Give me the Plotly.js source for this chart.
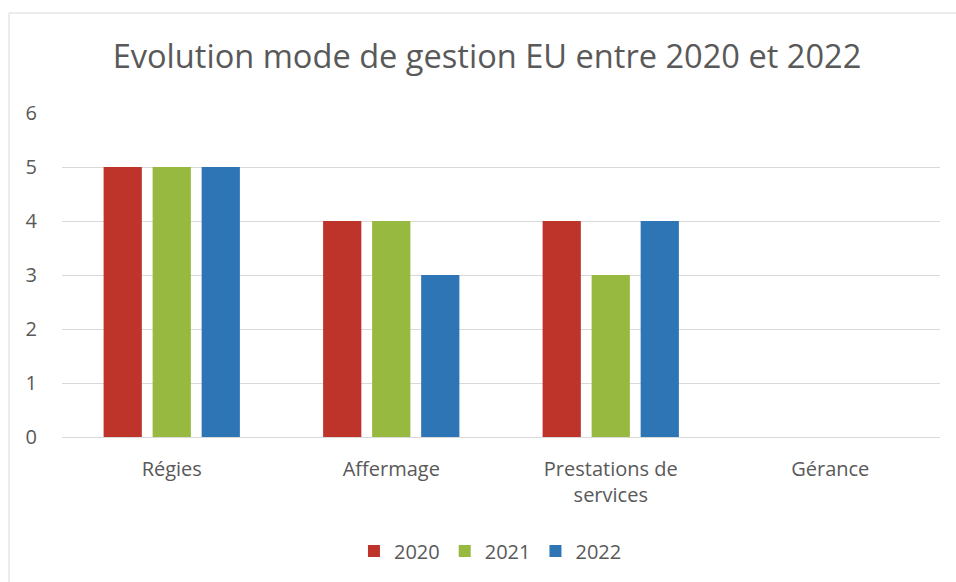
<!DOCTYPE html>
<html>
<head>
<meta charset="utf-8">
<script src="https://cdn.plot.ly/plotly-3.0.1.min.js"></script>
<style>
  body { margin: 0; background: #fff; }
  #chart { width: 956px; height: 582px; }
</style>
</head>
<body>
<div id="chart"></div>
<script>
var categories = ["Régies", "Affermage", "Prestations de<br>services", "Gérance"];
var years = ["2020", "2021", "2022"];
var values2020 = [5, 4, 4, 0];
var values2021 = [5, 4, 3, 0];
var values2022 = [5, 3, 4, 0];
var colors = ["#BE342B", "#97B93F", "#2E75B6"];

var series = [values2020, values2021, values2022];
var data = series.map(function (vals, i) {
  return {
    type: "bar",
    name: years[i],
    x: categories,
    y: vals,
    marker: { color: colors[i] },
    hoverinfo: "x+y+name"
  };
});

var font = "Open Sans, Noto Sans, sans-serif";

var layout = {
  width: 956,
  height: 582,
  margin: { l: 62, r: 16, t: 113, b: 145 },
  paper_bgcolor: "#fff",
  plot_bgcolor: "#fff",
  font: { family: font, color: "#595959", size: 20 },
  title: {
    text: "Evolution mode de gestion EU entre 2020 et 2022",
    font: { family: font, size: 32.6, color: "#595959" },
    x: 487 / 956, xanchor: "center",
    y: 1 - 57 / 582, yanchor: "middle"
  },
  barmode: "group",
  bargap: 0.33,
  bargroupgap: 0.22,
  xaxis: {
    showgrid: false,
    showline: true,
    linecolor: "#d9d9d9",
    linewidth: 1,
    ticks: "outside",
    ticklen: 14,
    tickcolor: "rgba(0,0,0,0)",
    tickfont: { size: 20 }
  },
  yaxis: {
    range: [0, 6],
    dtick: 1,
    showgrid: true,
    gridcolor: "#d9d9d9",
    gridwidth: 1,
    zeroline: false,
    showline: false,
    ticks: "outside",
    ticklen: 20,
    tickcolor: "rgba(0,0,0,0)",
    tickfont: { size: 20 }
  },
  showlegend: true,
  legend: {
    orientation: "h",
    x: 0.488, xanchor: "center",
    y: (437 - 551) / 324, yanchor: "middle",
    font: { size: 20 },
    itemwidth: 30,
    traceorder: "normal"
  },
  shapes: [{
    type: "rect",
    xref: "paper", yref: "paper",
    x0: (9 - 62) / 878, x1: (980 - 62) / 878,
    y0: (437 - 620) / 324, y1: (437 - 13) / 324,
    line: { color: "#d9d9d9", width: 1 },
    fillcolor: "rgba(0,0,0,0)",
    layer: "below"
  }]
};

Plotly.newPlot("chart", data, layout, { displayModeBar: false, staticPlot: true });
</script>
</body>
</html>
